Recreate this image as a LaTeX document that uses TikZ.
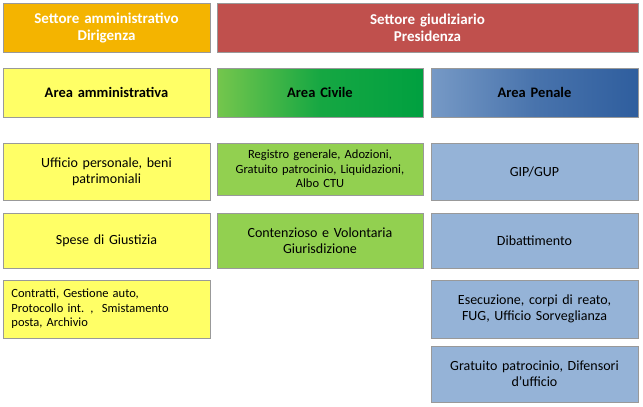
\documentclass[tikz,border=0pt]{standalone}
\usepackage{fontspec}
\setmainfont{Carlito}
\usetikzlibrary{shadows}
\definecolor{gold}{HTML}{F4B400}
\definecolor{redhead}{HTML}{C0504D}
\definecolor{yellowbox}{HTML}{FFFF66}
\definecolor{greenbox}{HTML}{92D050}
\definecolor{bluebox}{HTML}{95B3D7}
\definecolor{greendark}{HTML}{00A040}
\definecolor{bluedark}{HTML}{2F5E9E}
\tikzset{
  boxAll/.style={draw=black!40, thin, align=center, inner sep=2pt, text width=196pt,
    minimum width=207pt, drop shadow={shadow xshift=1pt, shadow yshift=-1pt, opacity=0.3}},
  boxHead/.style={fill=gold, text=white, font=\fontsize{15}{17}\selectfont\bfseries, minimum height=49pt},
  boxYellow/.style={fill=yellowbox, text=black, font=\fontsize{14}{16}\selectfont},
  boxGreen/.style={fill=greenbox, text=black, font=\fontsize{14}{16}\selectfont},
  boxBlue/.style={fill=bluebox, text=black, font=\fontsize{14}{16}\selectfont}
}
\begin{document}
\begin{tikzpicture}[x=1pt,y=-1pt]
  \useasboundingbox (0,0) rectangle (643,407);
  % header row
  \node[boxAll, boxHead] (dirigenza) at (106.5,27.5) {Settore amministrativo\\Dirigenza};
  \node[boxAll, boxHead, fill=redhead, minimum width=421pt, text width=400pt] (presidenza) at (427.5,27.5) {Settore giudiziario\\Presidenza};
  % area row
  \node[boxAll, boxYellow, minimum height=49pt, font=\fontsize{14.5}{16}\selectfont\bfseries] (areaAmm) at (106.5,92.5) {Area amministrativa};
  \node[boxAll, minimum height=49pt, minimum width=206pt, font=\fontsize{14.5}{16}\selectfont\bfseries,
    left color=greenbox!80!greendark, right color=greendark, middle color=greendark!85!greenbox] (areaCiv) at (320,92.5) {Area Civile};
  \node[boxAll, minimum height=49pt, font=\fontsize{14.5}{16}\selectfont\bfseries,
    left color=bluebox!70!bluedark, right color=bluedark, middle color=bluedark!75!bluebox] (areaPen) at (534.5,92.5) {Area Penale};
  % left column
  \node[boxAll, boxYellow, minimum height=57pt] (ufficio) at (106.5,171.5) {Ufficio personale, beni\\patrimoniali};
  \node[boxAll, boxYellow, minimum height=55pt] (spese) at (106.5,240.5) {Spese di Giustizia};
  \node[boxAll, boxYellow, minimum height=58pt, align=left, text width=190pt, font=\fontsize{12.5}{14.5}\selectfont] (contratti) at (106.5,309) {Contratti, Gestione auto,\\Protocollo int. ,~ Smistamento\\posta, Archivio};
  % middle column
  \node[boxAll, boxGreen, minimum height=52pt, minimum width=206pt, font=\fontsize{12.5}{14.5}\selectfont] (registro) at (320,169) {Registro generale, Adozioni,\\Gratuito patrocinio, Liquidazioni,\\Albo CTU};
  \node[boxAll, boxGreen, minimum height=55pt, minimum width=206pt] (contenzioso) at (320,240.5) {Contenzioso e Volontaria\\Giurisdizione};
  % right column
  \node[boxAll, boxBlue, minimum height=57pt] (gip) at (534.5,171.5) {GIP/GUP};
  \node[boxAll, boxBlue, minimum height=55pt] (dibattimento) at (534.5,240.5) {Dibattimento};
  \node[boxAll, boxBlue, minimum height=58pt] (esecuzione) at (534.5,309) {Esecuzione, corpi di reato,\\FUG, Ufficio Sorveglianza};
  \node[boxAll, boxBlue, minimum height=56pt] (gratuito) at (534.5,374) {Gratuito patrocinio, Difensori\\d’ufficio};
\end{tikzpicture}
\end{document}
